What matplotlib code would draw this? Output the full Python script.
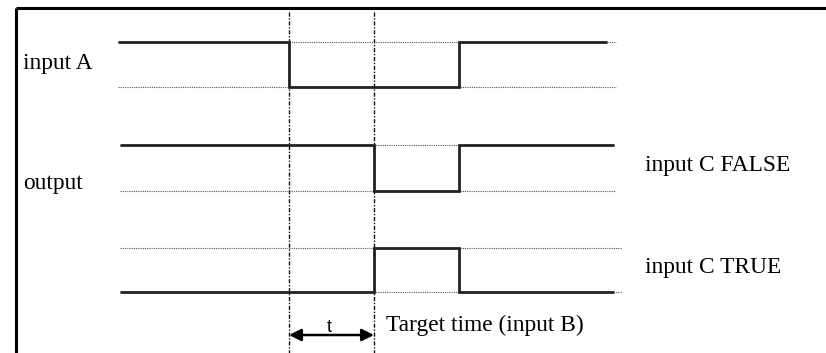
import matplotlib
matplotlib.use("Agg")
import matplotlib.pyplot as plt

# ---- data (timing diagram, time in diagram units) ----
t_start = 118
t_fall_A = 289          # input A goes low
t_target = 374          # target time reached (t after A falls)
t_rise_A = 459          # input A goes high again
t_end = 614

# signal levels (y positions of high / low rails per trace)
levels_A = (42, 87)
levels_F = (145, 191)
levels_T = (248, 292)

# step waveforms: (times, states) 1 = high, 0 = low
times_A = [t_start, t_fall_A, t_rise_A, 607]
states_A = [1, 0, 1, 1]
times_F = [120, t_target, t_rise_A, t_end]
states_F = [1, 0, 1, 1]
times_T = [120, t_target, t_rise_A, t_end]
states_T = [0, 1, 0, 0]

labels_left = ["input A", "output"]
labels_right = ["input C FALSE", "input C TRUE"]
t_label = "t"
target_label = "Target time (input B)"

W, H = 826, 353
fig = plt.figure(figsize=(W / 100, H / 100), dpi=100)
ax = fig.add_axes([0, 0, 1, 1])
ax.set_xlim(0, W)
ax.set_ylim(H, 0)
ax.axis("off")

serif = ["Liberation Serif", "DejaVu Serif"]
sig_color = "#222222"
dot_color = "#555555"
FS = 16.8


def draw_signal(times, states, levels, dot_ext):
    hi, lo = levels
    xs, ys = [], []
    for i in range(len(times) - 1):
        y = hi if states[i] else lo
        xs += [times[i], times[i + 1]]
        ys += [y, y]
    ax.plot(xs, ys, color=sig_color, lw=2.0, solid_joinstyle="miter",
            solid_capstyle="butt", zorder=3)
    # dotted reference rails (the inactive level)
    x0, x1 = times[0], dot_ext
    ax.plot([x0, x1], [hi, hi], color=dot_color, lw=0.8, ls=(0, (1, 1)), zorder=1)
    ax.plot([x0, x1], [lo, lo], color=dot_color, lw=0.8, ls=(0, (1, 1)), zorder=1)


draw_signal(times_A, states_A, levels_A, 616)
draw_signal(times_F, states_F, levels_F, 615)
draw_signal(times_T, states_T, levels_T, 621)

# vertical dash-dot markers
for x in (t_fall_A, t_target):
    ax.plot([x, x], [12, H], color="#111111", lw=1.0,
            ls=(0, (3, 1.2, 1, 1.2)), zorder=2)

# border (top and left)
ax.plot([16, W], [8, 8], color="black", lw=2.2, solid_capstyle="butt")
ax.plot([16, 16], [8, H], color="black", lw=2.2, solid_capstyle="butt")

# time interval arrow
ax.annotate("", xy=(t_fall_A, 335), xytext=(t_target, 335),
            arrowprops=dict(arrowstyle="<|-|>", color="black", lw=1.8,
                            mutation_scale=18, shrinkA=0, shrinkB=0))
ax.text((t_fall_A + t_target) / 2 - 2, 327, t_label, ha="center", va="center",
        fontsize=13, family=["Liberation Sans", "DejaVu Sans"])
ax.text(386, 325, target_label, ha="left", va="center", fontsize=FS, family=serif)

ax.text(23, 63, labels_left[0], ha="left", va="center", fontsize=FS, family=serif)
ax.text(23, 183, labels_left[1], ha="left", va="center", fontsize=FS, family=serif)
ax.text(645, 165, labels_right[0], ha="left", va="center", fontsize=FS, family=serif)
ax.text(645, 267, labels_right[1], ha="left", va="center", fontsize=FS, family=serif)

fig.savefig("out.png", dpi=100, facecolor="white")
